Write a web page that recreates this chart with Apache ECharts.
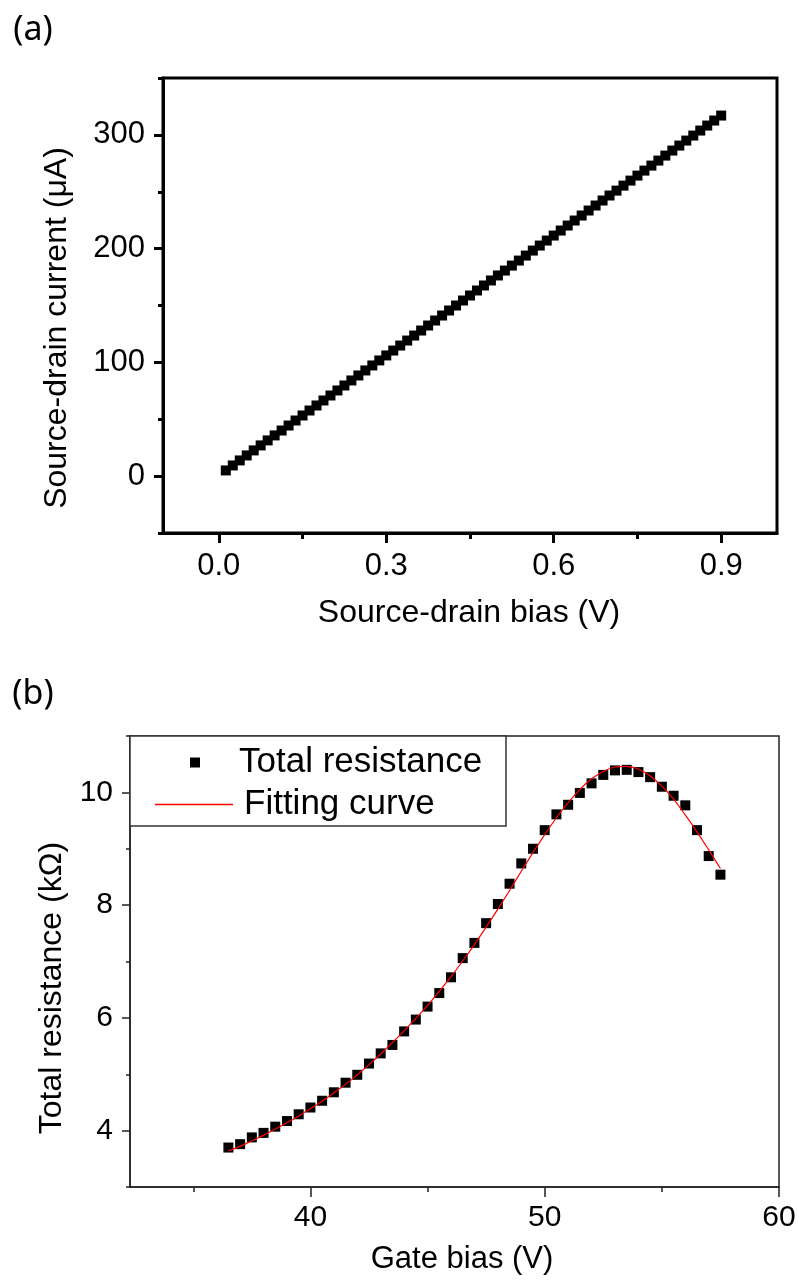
<!DOCTYPE html>
<html>
<head>
<meta charset="utf-8">
<script src="https://cdn.jsdelivr.net/npm/echarts@6/dist/echarts.min.js"></script>
<style>html,body{margin:0;padding:0;background:#fff}#c{width:799px;height:1287px}</style>
</head>
<body>
<div id="c"></div>
<script>
// ---------- Panel (a) data ----------
const biasV = [0.0125,0.025,0.0375,0.05,0.0625,0.075,0.0875,0.1,0.1125,0.125,0.1375,0.15,0.1625,0.175,0.1875,0.2,0.2125,0.225,0.2375,0.25,0.2625,0.275,0.2875,0.3,0.3125,0.325,0.3375,0.35,0.3625,0.375,0.3875,0.4,0.4125,0.425,0.4375,0.45,0.4625,0.475,0.4875,0.5,0.5125,0.525,0.5375,0.55,0.5625,0.575,0.5875,0.6,0.6125,0.625,0.6375,0.65,0.6625,0.675,0.6875,0.7,0.7125,0.725,0.7375,0.75,0.7625,0.775,0.7875,0.8,0.8125,0.825,0.8375,0.85,0.8625,0.875,0.8875,0.9];
const currentUA = [5.0,9.4,13.8,18.2,22.6,27.0,31.4,35.8,40.1,44.5,48.9,53.3,57.7,62.1,66.5,70.9,75.3,79.7,84.1,88.5,92.9,97.3,101.7,106.1,110.4,114.8,119.2,123.6,128.0,132.4,136.8,141.2,145.6,150.0,154.4,158.8,163.2,167.6,172.0,176.4,180.7,185.1,189.5,193.9,198.3,202.7,207.1,211.5,215.9,220.3,224.7,229.1,233.5,237.9,242.3,246.7,251.0,255.4,259.8,264.2,268.6,273.0,277.4,281.8,286.2,290.6,295.0,299.4,303.8,308.2,312.6,317.0];
const aXMajor = [0, 0.3, 0.6, 0.9];
const aXMinor = [0.15, 0.45, 0.75];
const aYMajor = [0, 100, 200, 300];
const aYMinor = [-50, 50, 150, 250, 350];

// ---------- Panel (b) data ----------
const gateV = [36.5,37,37.5,38,38.5,39,39.5,40,40.5,41,41.5,42,42.5,43,43.5,44,44.5,45,45.5,46,46.5,47,47.5,48,48.5,49,49.5,50,50.5,51,51.5,52,52.5,53,53.5,54,54.5,55,55.5,56,56.5,57,57.5];
const totalR = [3.70,3.76,3.88,3.96,4.07,4.17,4.29,4.41,4.53,4.68,4.85,4.99,5.19,5.37,5.52,5.76,5.97,6.20,6.44,6.72,7.06,7.33,7.68,8.02,8.38,8.74,9.00,9.33,9.61,9.78,9.99,10.16,10.31,10.39,10.40,10.36,10.27,10.10,9.94,9.77,9.33,8.87,8.54];
const fitR = [3.64,3.72,3.82,3.92,4.03,4.14,4.26,4.39,4.52,4.67,4.82,4.99,5.17,5.36,5.56,5.77,5.99,6.22,6.47,6.73,7.01,7.30,7.61,7.93,8.26,8.60,8.93,9.25,9.55,9.82,10.05,10.24,10.37,10.45,10.46,10.41,10.29,10.11,9.88,9.60,9.30,8.98,8.65];
const bXMajor = [40, 50, 60];
const bXMinor = [35, 45, 55];
const bYMajor = [4, 6, 8, 10];
const bYMinor = [3, 5, 7, 9, 11];

const FONT = '"Liberation Sans", Arial, sans-serif';
const zip = (a, b) => a.map((v, i) => [v, b[i]]);

function axisPair(type, grid, min, max, major, minor, o) {
  const base = { type: 'value', gridIndex: grid, min: min, max: max, splitLine: { show: false }, position: type === 'x' ? 'bottom' : 'left' };
  const maj = Object.assign({}, base, {
    axisLine: { show: true, onZero: false, lineStyle: { color: o.color, width: o.lw } },
    axisTick: { show: true, inside: false, length: o.majLen, customValues: major, lineStyle: { color: o.color, width: o.lw } },
    axisLabel: { show: true, customValues: major, margin: o.margin, fontSize: o.fs, fontFamily: FONT, color: '#000', formatter: o.fmt }
  });
  const mnr = Object.assign({}, base, {
    axisLine: { show: false, onZero: false },
    axisTick: { show: true, inside: false, length: o.minLen, customValues: minor, lineStyle: { color: o.color, width: o.lw } },
    axisLabel: { show: false }
  });
  return [maj, mnr];
}

const xa = axisPair('x', 0, -0.1, 1.0, aXMajor, aXMinor, { color: '#000', lw: 3, majLen: 10, minLen: 6, margin: 18, fs: 31, fmt: v => v.toFixed(1) });
const ya = axisPair('y', 0, -50, 350, aYMajor, aYMinor, { color: '#000', lw: 3, majLen: 9, minLen: 5, margin: 18, fs: 31, fmt: v => String(v) });
const xb = axisPair('x', 1, 32.3, 60, bXMajor, bXMinor, { color: '#222', lw: 1.5, majLen: 10, minLen: 5, margin: 16, fs: 30, fmt: v => String(v) });
const yb = axisPair('y', 1, 3, 11, bYMajor, bYMinor, { color: '#222', lw: 1.5, majLen: 8, minLen: 4, margin: 17, fs: 30, fmt: v => String(v) });

const chart = echarts.init(document.getElementById('c'), null, { renderer: 'canvas', width: 799, height: 1287 });
chart.setOption({
  animation: false,
  backgroundColor: '#fff',
  grid: [
    { left: 163, top: 78, width: 614, height: 455, show: true, borderColor: '#000', borderWidth: 3, backgroundColor: 'transparent' },
    { left: 130, top: 736, width: 649, height: 451, show: true, borderColor: '#222', borderWidth: 1.5, backgroundColor: 'transparent' }
  ],
  xAxis: [xa[0], xa[1], xb[0], xb[1]],
  yAxis: [ya[0], ya[1], yb[0], yb[1]],
  legend: [
    { data: [{ name: 'Total resistance', icon: 'rect' }], left: 185, top: 740, itemWidth: 10, itemHeight: 10, z: 10,
      textStyle: { fontSize: 35, fontFamily: FONT, color: '#000', padding: [0, 0, 0, 34] } },
    { data: [{ name: 'Fitting curve', icon: 'rect' }], left: 150, top: 782, itemWidth: 78, itemHeight: 1.5, z: 10,
      itemStyle: { color: '#ff0000', borderWidth: 0 },
      textStyle: { fontSize: 35, fontFamily: FONT, color: '#000', padding: [0, 0, 0, 6] } }
  ],
  graphic: [
    { type: 'rect', z: 5, shape: { x: 130, y: 736, width: 376, height: 90 }, style: { fill: '#fff', stroke: '#333', lineWidth: 1.5 } },
    { type: 'text', x: 33, y: 30, style: { text: '(a)', font: '34px "Noto Sans", sans-serif', fill: '#000', align: 'center', verticalAlign: 'middle' } },
    { type: 'text', x: 33, y: 694, style: { text: '(b)', font: '34px "Noto Sans", sans-serif', fill: '#000', align: 'center', verticalAlign: 'middle' } },
    { type: 'text', x: 469, y: 613, style: { text: 'Source-drain bias (V)', font: '32px "Liberation Sans", Arial, sans-serif', fill: '#000', align: 'center', verticalAlign: 'middle' } },
    { type: 'text', x: 57, y: 328, rotation: Math.PI / 2, style: { text: 'Source-drain current (\u03bcA)', font: '32px "Liberation Sans", Arial, sans-serif', fill: '#000', align: 'center', verticalAlign: 'middle' } },
    { type: 'text', x: 462, y: 1259, style: { text: 'Gate bias (V)', font: '31px "Liberation Sans", Arial, sans-serif', fill: '#000', align: 'center', verticalAlign: 'middle' } },
    { type: 'text', x: 52, y: 988, rotation: Math.PI / 2, style: { text: 'Total resistance (k\u03a9)', font: '32px "Liberation Sans", Arial, sans-serif', fill: '#000', align: 'center', verticalAlign: 'middle' } }
  ],
  series: [
    { name: 'I-V', type: 'scatter', xAxisIndex: 0, yAxisIndex: 0, symbol: 'rect', symbolSize: 10, itemStyle: { color: '#000', opacity: 1 }, data: zip(biasV, currentUA) },
    { name: 'Total resistance', type: 'scatter', xAxisIndex: 2, yAxisIndex: 2, symbol: 'rect', symbolSize: 10, itemStyle: { color: '#000', opacity: 1 }, z: 2, data: zip(gateV, totalR) },
    { name: 'Fitting curve', type: 'line', xAxisIndex: 2, yAxisIndex: 2, smooth: 0.4, symbol: 'none', showSymbol: false, z: 3,
      lineStyle: { color: '#ff0000', width: 1.2 }, itemStyle: { color: '#ff0000' }, data: zip(gateV, fitR) }
  ]
});
</script>
</body>
</html>
